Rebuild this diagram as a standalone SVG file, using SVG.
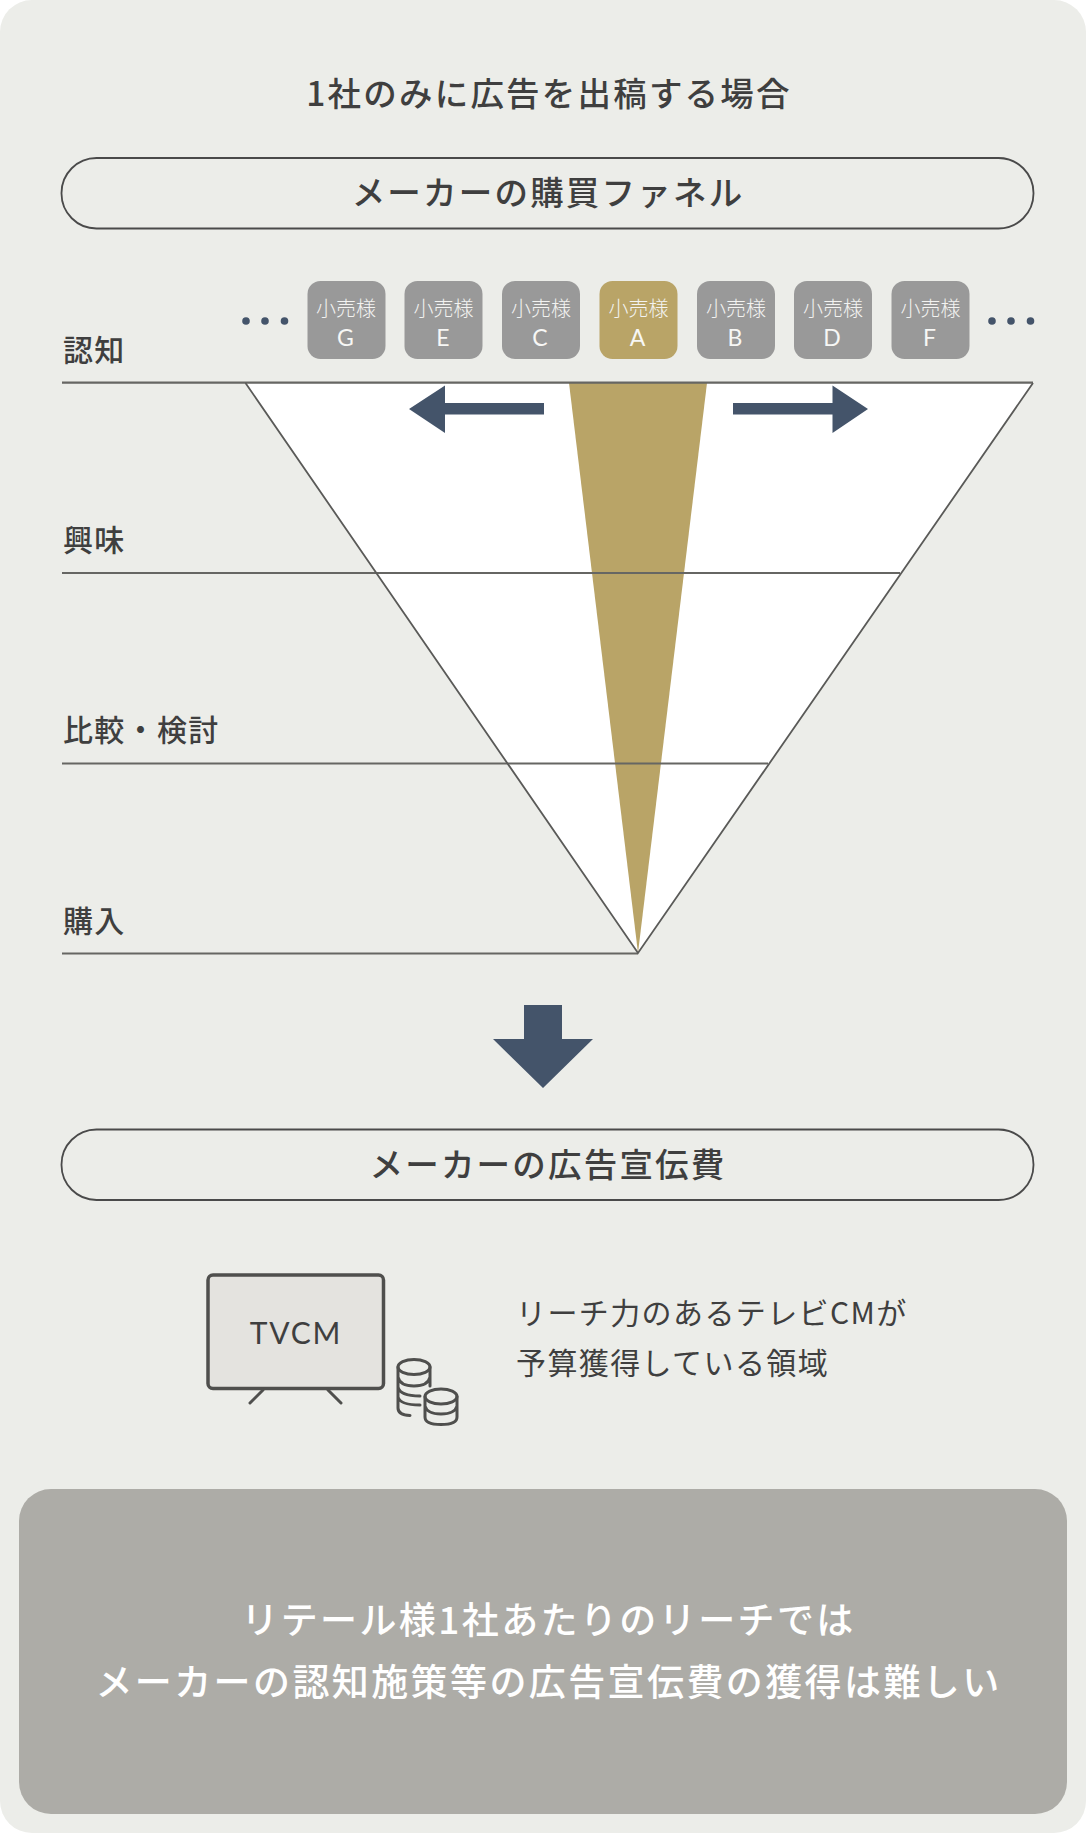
<svg xmlns="http://www.w3.org/2000/svg" width="1086" height="1833" viewBox="0 0 1086 1833">
<defs><style>
text{font-family:"Noto Sans CJK JP","Noto Sans",sans-serif;fill:#3f3f3f}
.h{font-size:33.500px;text-anchor:middle;font-weight:500;letter-spacing:2.200px}
.l{font-size:30px;font-weight:500;letter-spacing:1.300px}
.pill{fill:none;stroke:#4a4a4a;stroke-width:1.800}
.ln{stroke:#666663;stroke-width:2.200;fill:none}
.r{fill:#999999}
.t1{font-size:20px;fill:#f3f3f1;text-anchor:middle;font-weight:300}
.t2{font-size:23px;fill:#f7f7f5;text-anchor:middle;font-family:"Lato","Noto Sans",sans-serif;font-weight:400}
.dot{fill:#44546a}
.w{fill:#fff;text-anchor:middle;font-size:37px;font-weight:500;letter-spacing:2.400px}
.s{font-size:30px;letter-spacing:1.400px;font-weight:400}
.ic{fill:none;stroke:#4f4f4d;stroke-width:3;stroke-linecap:round;stroke-linejoin:round}
</style></defs>
<rect id="bg" x="0" y="0" width="1086" height="1833" rx="32" fill="#ecedE9"/>
<text id="title" class="h" x="549" y="106">1社のみに広告を出稿する場合</text>
<g id="pill-funnel"><rect class="pill" x="61.500" y="158" width="972" height="70.500" rx="35"/><text class="h" x="548" y="205">メーカーの購買ファネル</text></g>
<g id="funnel">
<polygon points="245.500,383 1033,383 638,953" fill="#fff"/>
<polygon points="569,383 707,383 638,953" fill="#b9a467"/>
</g>
<g id="connectors">
<path class="ln" d="M62 382.700H1033M62 573H900M62 763.500H768M62 953.500H638"/>
<path d="M245.500 383L638 953L1033 383" fill="none" stroke="#5a5a58" stroke-width="1.800"/>
<polygon class="dot" points="409,409 445,385.500 445,403 544,403 544,414.500 445,414.500 445,433"/>
<polygon class="dot" points="868,409 832.500,385.500 832.500,403 733,403 733,414.500 832.500,414.500 832.500,433"/>
<polygon class="dot" points="524,1005 562,1005 562,1039 593,1039 543,1088 493,1039 524,1039"/>
</g>
<g id="stage-labels">
<text class="l" x="63" y="361">認知</text>
<text class="l" x="63" y="551">興味</text>
<text class="l" x="63" y="741">比較・検討</text>
<text class="l" x="63" y="932">購入</text>
</g>
<g id="dots-left" class="dot"><circle cx="246" cy="321" r="3.800"/><circle cx="265" cy="321" r="3.800"/><circle cx="284.500" cy="321" r="3.800"/></g>
<g id="dots-right" class="dot"><circle cx="992" cy="321" r="3.800"/><circle cx="1011" cy="321" r="3.800"/><circle cx="1030.500" cy="321" r="3.800"/></g>
<g id="retailer-G"><rect class="r" x="307.500" y="281" width="78" height="78" rx="13"/><text class="t1" x="346" y="316">小売様</text><text class="t2" x="345.500" y="346">G</text></g>
<g id="retailer-E"><rect class="r" x="404.500" y="281" width="78" height="78" rx="13"/><text class="t1" x="443.500" y="316">小売様</text><text class="t2" x="443" y="346">E</text></g>
<g id="retailer-C"><rect class="r" x="502" y="281" width="78" height="78" rx="13"/><text class="t1" x="541" y="316">小売様</text><text class="t2" x="540" y="346">C</text></g>
<g id="retailer-A"><rect x="599.500" y="281" width="78" height="78" rx="13" fill="#b9a467"/><text class="t1" x="638.500" y="316">小売様</text><text class="t2" x="637.500" y="346">A</text></g>
<g id="retailer-B"><rect class="r" x="697" y="281" width="78" height="78" rx="13"/><text class="t1" x="736" y="316">小売様</text><text class="t2" x="735" y="346">B</text></g>
<g id="retailer-D"><rect class="r" x="794" y="281" width="78" height="78" rx="13"/><text class="t1" x="833" y="316">小売様</text><text class="t2" x="832" y="346">D</text></g>
<g id="retailer-F"><rect class="r" x="891.500" y="281" width="78" height="78" rx="13"/><text class="t1" x="930.500" y="316">小売様</text><text class="t2" x="929.500" y="346">F</text></g>
<g id="pill-budget"><rect class="pill" x="61.500" y="1129.500" width="972" height="70.500" rx="35"/><text class="h" x="548" y="1177">メーカーの広告宣伝費</text></g>
<g id="tv">
<rect x="208" y="1275" width="175.500" height="113.500" rx="5" fill="#e4e3df" stroke="#4f4f4d" stroke-width="3.500"/>
<path class="ic" d="M263 1390L250 1403M328 1390L341 1403"/>
<text x="296" y="1344" text-anchor="middle" style="font-size:30px;font-family:'Lato','Noto Sans',sans-serif;letter-spacing:1.800px">TVCM</text>
</g>
<g id="coins" class="ic">
<ellipse cx="414" cy="1367" rx="16" ry="7.500"/>
<path d="M398 1367V1408Q398 1415 410 1415.500M430 1367V1386M398 1377Q400 1386 414 1386Q428 1386 430 1377M398 1387Q400 1396 420 1396M398 1397Q400 1405 420 1405"/>
<ellipse cx="441" cy="1396.500" rx="16" ry="7.500"/>
<path d="M425 1396.500V1417Q425 1424.500 441 1424.500Q457 1424.500 457 1417V1396.500M425 1406Q427 1414 441 1414Q455 1414 457 1406"/>
</g>
<g id="note"><text class="s" x="516" y="1324">リーチ力のあるテレビCMが</text><text class="s" x="516" y="1374">予算獲得している領域</text></g>
<g id="conclusion"><rect x="19" y="1489" width="1048" height="325" rx="32" fill="#adaca7"/>
<text class="w" x="548.500" y="1634">リテール様1社あたりのリーチでは</text>
<text class="w" x="548.500" y="1696">メーカーの認知施策等の広告宣伝費の獲得は難しい</text></g>
</svg>
